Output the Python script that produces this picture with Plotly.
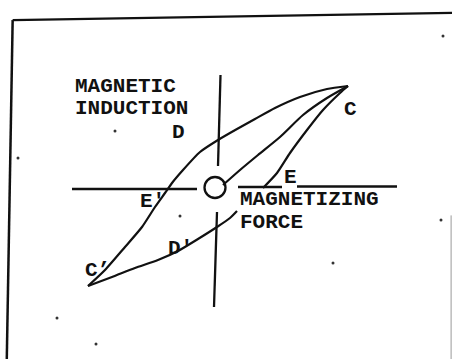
import plotly.graph_objects as go

# hysteresis loop, H (magnetizing force) vs B (magnetic induction), arbitrary units
upper_h = [-12.7, -11.0, -9.0, -7.3, -6.0, -5.0, -4.3, -3.2, -1.5, 0.3, 2.2, 4.0, 6.0, 8.5, 11.2, 13.3]
upper_b = [-9.8, -8.2, -5.9, -3.9, -1.9, -0.5, 0.5, 1.8, 3.6, 4.8, 5.9, 6.9, 8.0, 9.1, 9.9, 10.2]

initial_h = [0.8, 2.5, 4.3, 6.5, 8.8, 11.2, 13.3]
initial_b = [0.3, 1.8, 3.3, 5.1, 7.3, 9.0, 10.2]

return_top_h = [13.3, 12.5, 10.8, 9.2, 7.5, 6.2, 4.8]
return_top_b = [10.2, 9.5, 7.8, 5.8, 3.5, 1.5, 0.0]

return_low_h = [2.2, 1.5, 0.2, -1.7, -3.7, -5.7, -8.0, -10.3, -12.7]
return_low_b = [-2.3, -3.0, -3.9, -5.1, -6.3, -7.2, -8.0, -8.9, -9.8]

# hand-drawn axes (broken around the origin circle)
axis_h_segments = [([-14.3, -1.8], [-0.1, -0.1]), ([2.3, 6.7], [0.1, 0.1]), ([8.2, 18.2], [0.15, 0.15])]
axis_b_segments = [([0.55, 0.3], [11.3, 2.2]), ([0.2, -0.1], [-2.4, -11.9])]

point_labels = ["D", "C", "E", "E'", "D'", "C’"]
label_h = [-4.4, 12.8, 6.8, -7.6, -4.8, -13.1]
label_b = [5.6, 7.9, 1.1, -1.3, -6.0, -8.2]

axis_titles = ["MAGNETIC", "INDUCTION", "MAGNETIZING", "FORCE"]
title_h = [-14.1, -14.1, 2.4, 2.4]
title_b = [10.2, 8.0, -1.1, -3.45]

specks_h = [22.8, -15.8, -11.9, -10.0, 11.8, -3.5, -19.7, 22.6]
specks_b = [15.2, -13.0, -15.6, 5.7, -7.5, -2.8, 3.0, -3.2]

INK = "#111111"
FONT = "Liberation Mono"

fig = go.Figure()
for hs, bs in axis_h_segments + axis_b_segments:
    fig.add_trace(go.Scatter(x=hs, y=bs, mode="lines", line={"color": INK, "width": 2.3}))
for hs, bs in [(upper_h, upper_b), (initial_h, initial_b), (return_top_h, return_top_b), (return_low_h, return_low_b)]:
    fig.add_trace(go.Scatter(x=hs, y=bs, mode="lines", line={"color": INK, "width": 2.2, "shape": "spline", "smoothing": 0.6}))
fig.add_trace(go.Scatter(x=specks_h, y=specks_b, mode="markers", marker={"color": "#333", "size": 3}))

# origin "O"
fig.add_shape(type="circle", xref="x", yref="y", x0=-1.05, x1=1.05, y0=-1.0, y1=1.1, line={"color": INK, "width": 2.3})

for txt, h, b in zip(point_labels + axis_titles, label_h + title_h, label_b + title_b):
    fig.add_annotation(x=h, y=b, text=txt, showarrow=False, xanchor="left", yanchor="middle", borderpad=0,
                       font={"family": FONT, "size": 21, "color": INK, "weight": "bold"})

# scanned page frame
fig.add_shape(type="line", xref="paper", yref="paper", x0=0.028, y0=0.944, x1=0.015, y1=0.0, line={"color": INK, "width": 2.5})
fig.add_shape(type="line", xref="paper", yref="paper", x0=0.028, y0=0.944, x1=1.0, y1=0.964, line={"color": INK, "width": 2.2})
fig.add_shape(type="line", xref="paper", yref="paper", x0=0.998, y0=0.40, x1=0.998, y1=0.0, line={"color": "#999", "width": 1})

fig.update_layout(
    width=452, height=359, margin={"l": 0, "r": 0, "t": 0, "b": 0},
    paper_bgcolor="white", plot_bgcolor="white", showlegend=False,
)
fig.update_xaxes(range=[-21.5, 23.7], visible=False)
fig.update_yaxes(range=[-17.1, 18.8], visible=False)
fig.write_html("out.html", config={"displayModeBar": False}, post_script="document.body.style.margin = '0';")
